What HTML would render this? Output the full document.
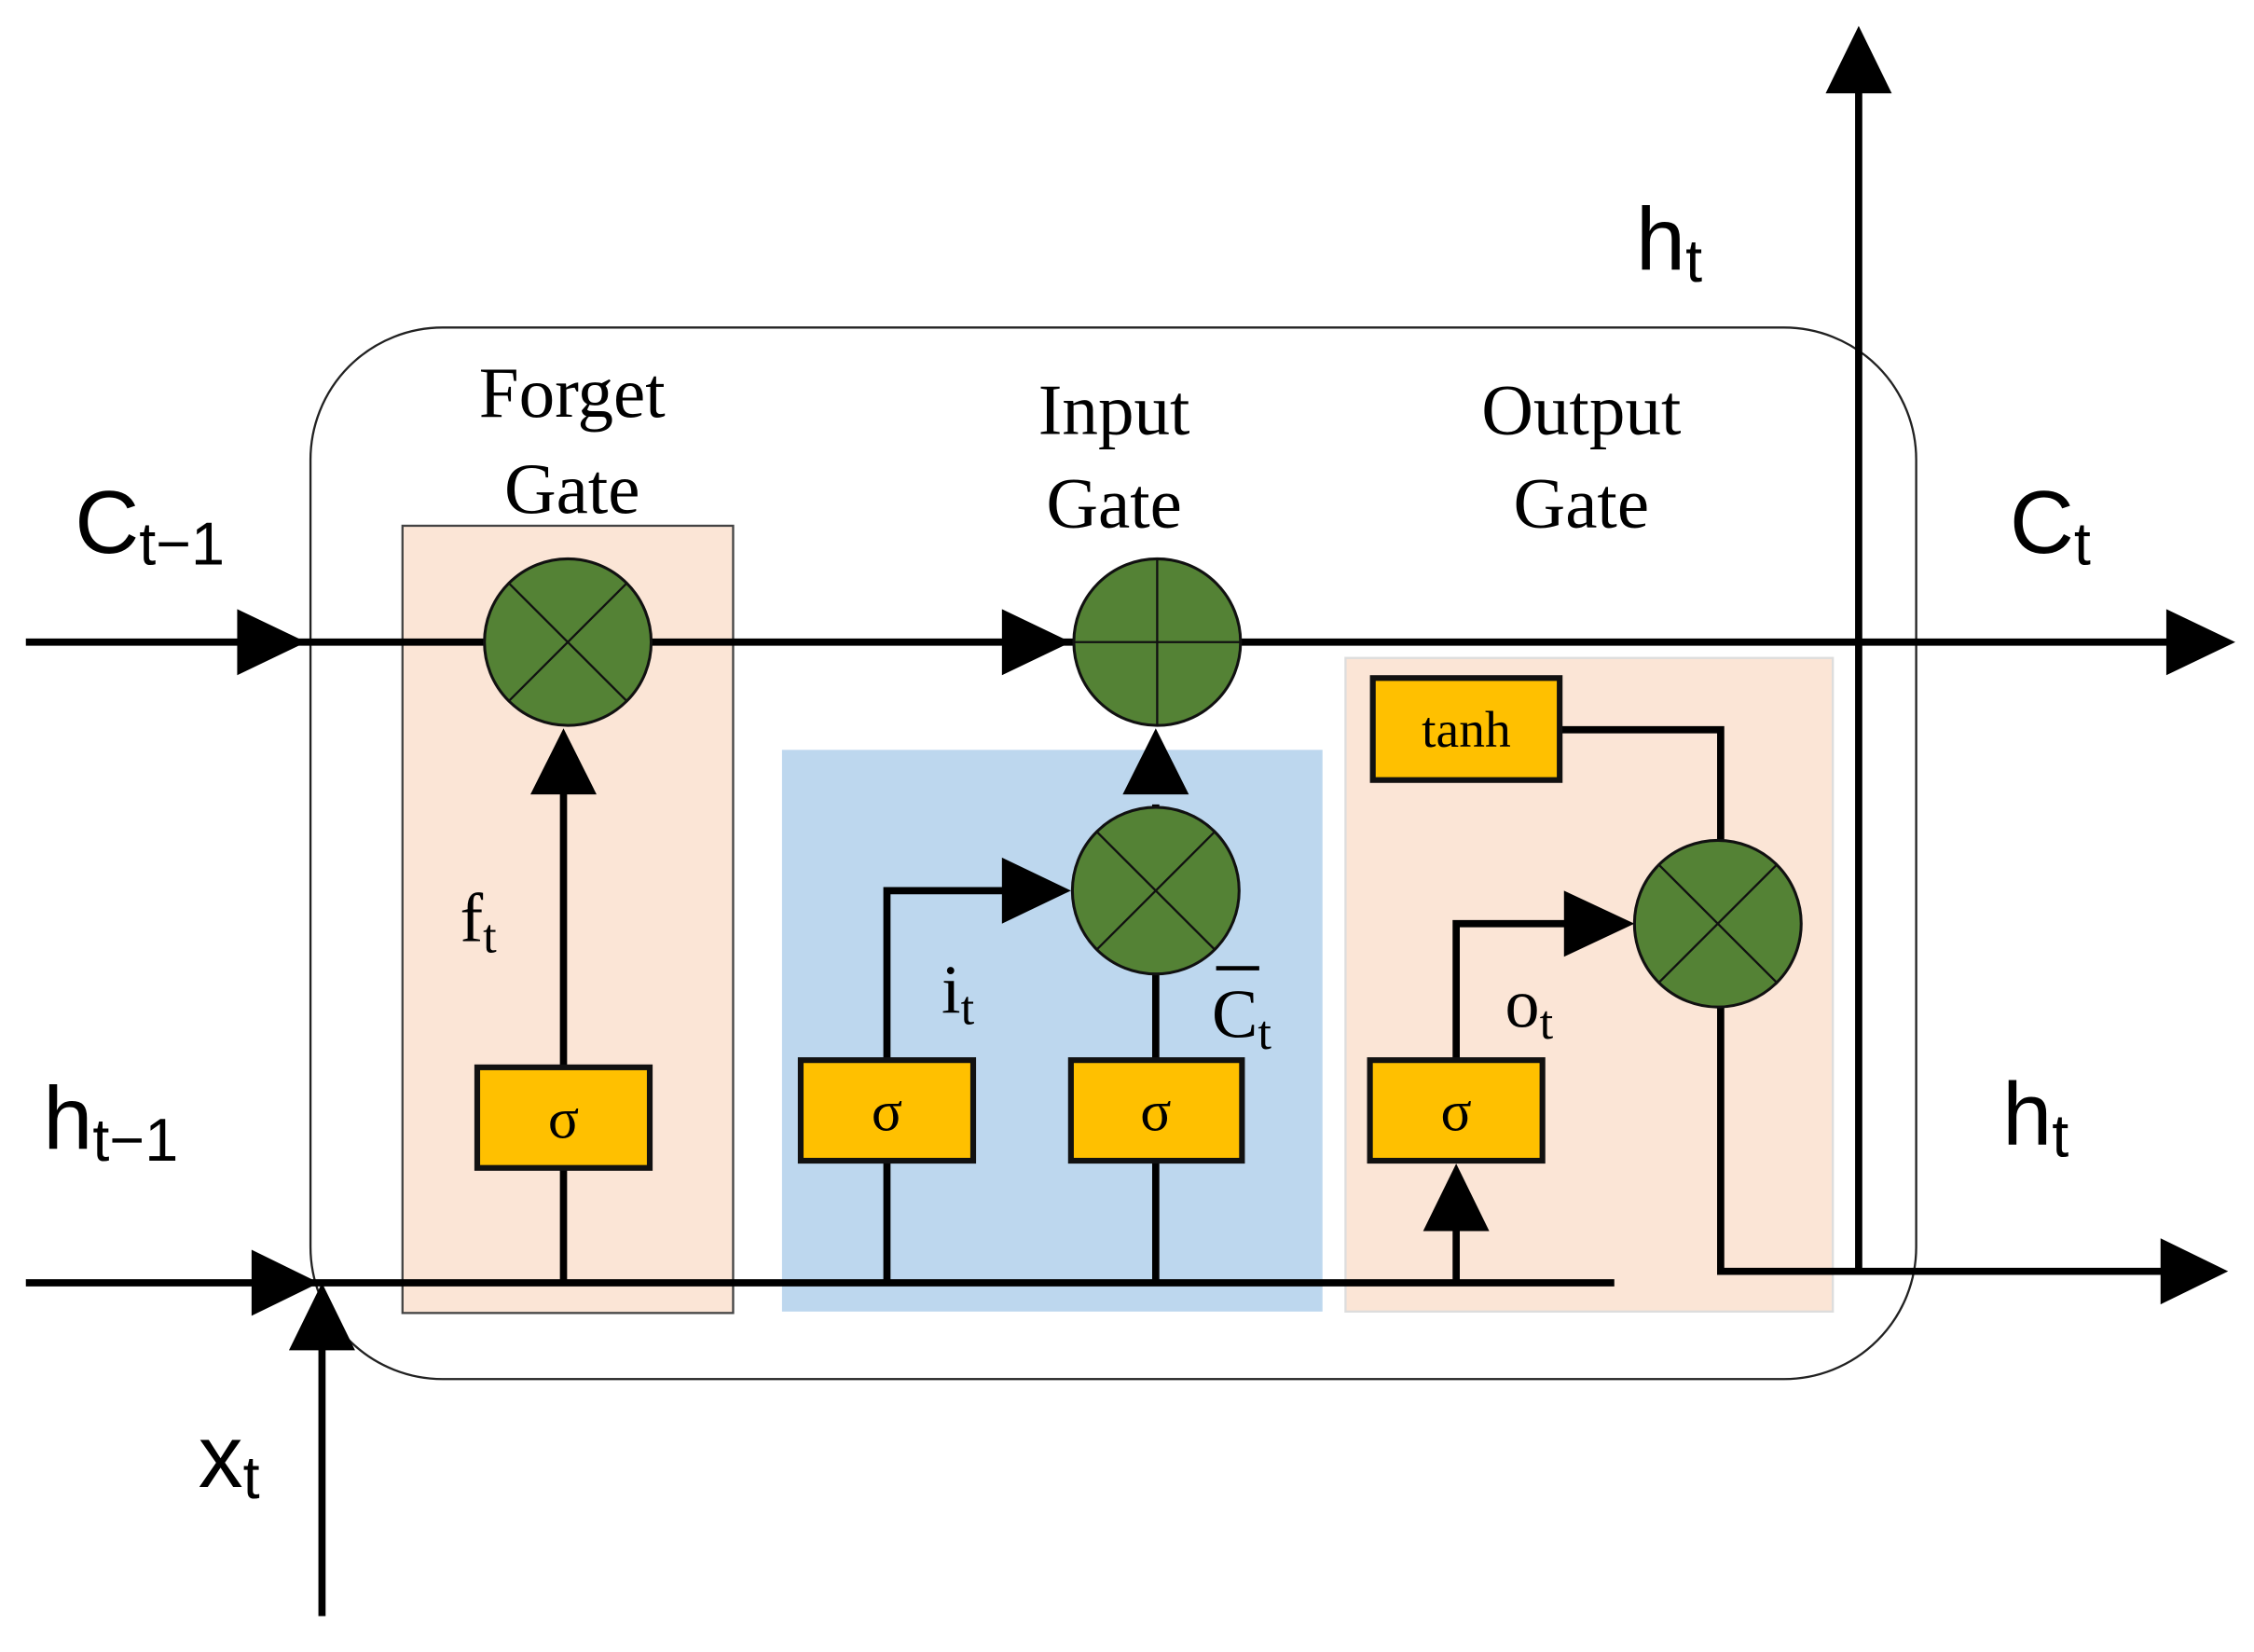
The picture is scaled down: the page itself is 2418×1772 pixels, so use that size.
<!DOCTYPE html>
<html><head><meta charset="utf-8"><style>html,body{margin:0;padding:0;background:#fff}svg{display:block}</style></head><body>
<svg width="2418" height="1772" viewBox="0 0 1568 1150" preserveAspectRatio="none" xmlns="http://www.w3.org/2000/svg">
<rect x="216" y="228" width="1117" height="732" rx="92" fill="none" stroke="#222" stroke-width="1.5"/>
<rect x="280" y="366" width="230" height="548" fill="#fbe5d6" stroke="#444" stroke-width="1.5"/>
<rect x="544" y="522" width="376" height="391" fill="#bdd7ee"/>
<rect x="936" y="458" width="339" height="455" fill="#fbe5d6" stroke="#ddd" stroke-width="1.5"/>
<g stroke="#000" stroke-width="5" fill="none">
<line x1="18" y1="447" x2="1515" y2="447"/>
<line x1="18" y1="893" x2="1123" y2="893"/>
<line x1="224" y1="1125" x2="224" y2="930"/>
<line x1="392" y1="893" x2="392" y2="550"/>
<polyline points="617,893 617,620 700,620"/>
<line x1="804" y1="893" x2="804" y2="560"/>
<line x1="1013" y1="893" x2="1013" y2="850"/>
<polyline points="1013,740 1013,643 1090,643"/>
<polyline points="1085,508 1197,508 1197,590"/>
<polyline points="1197,700 1197,885 1510,885"/>
<line x1="1293" y1="885" x2="1293" y2="60"/>
</g>
<g fill="#000">
<polygon points="165,424 213,447 165,470"/>
<polygon points="697,424 745,447 697,470"/>
<polygon points="1507,424 1555,447 1507,470"/>
<polygon points="175,870 222,893 175,916"/>
<polygon points="201,940 224,893 247,940"/>
<polygon points="369,553 392,507 415,553"/>
<polygon points="697,597 745,620 697,643"/>
<polygon points="781,553 804,507 827,553"/>
<polygon points="990,857 1013,810 1036,857"/>
<polygon points="1088,620 1137,643 1088,666"/>
<polygon points="1503,862 1550,885 1503,908"/>
<polygon points="1270,65 1293,18 1316,65"/>
</g>
<g fill="#548235" stroke="#111" stroke-width="2">
<ellipse cx="395" cy="447" rx="58" ry="58"/>
<ellipse cx="805" cy="447" rx="58" ry="58"/>
<ellipse cx="804" cy="620" rx="58" ry="58"/>
<ellipse cx="1195" cy="643" rx="58" ry="58"/>
</g>
<g stroke="#111" stroke-width="1.5">
<line x1="354" y1="406" x2="436" y2="488"/><line x1="436" y1="406" x2="354" y2="488"/>
<line x1="747" y1="447" x2="863" y2="447"/><line x1="805" y1="389" x2="805" y2="505"/>
<line x1="763" y1="579" x2="845" y2="661"/><line x1="845" y1="579" x2="763" y2="661"/>
<line x1="1154" y1="602" x2="1236" y2="684"/><line x1="1236" y1="602" x2="1154" y2="684"/>
</g>
<g fill="#ffc000" stroke="#111" stroke-width="4">
<rect x="332" y="743" width="120" height="70"/>
<rect x="557" y="738" width="120" height="70"/>
<rect x="745" y="738" width="119" height="70"/>
<rect x="953" y="738" width="120" height="70"/>
<rect x="955" y="472" width="130" height="71"/>
</g>
<g font-family="Liberation Serif, serif" text-anchor="middle" fill="#000">
<text x="392" y="792" font-size="40">σ</text>
<text x="617" y="787" font-size="40">σ</text>
<text x="804" y="787" font-size="40">σ</text>
<text x="1013" y="787" font-size="40">σ</text>
<text x="1020" y="520" font-size="36">tanh</text>
<text x="398" y="290" font-size="50">Forget</text>
<text x="398" y="357" font-size="50">Gate</text>
<text x="775" y="302" font-size="50">Input</text>
<text x="775" y="367" font-size="50">Gate</text>
<text x="1100" y="302" font-size="50">Output</text>
<text x="1100" y="367" font-size="50">Gate</text>
</g>
<g font-family="Liberation Serif, serif" fill="#000">
<text x="320" y="655" font-size="48">f<tspan font-size="34" dy="8">t</tspan></text>
<text x="655" y="705" font-size="48">i<tspan font-size="34" dy="8">t</tspan></text>
<text x="843" y="722" font-size="48">C<tspan font-size="34" dy="8">t</tspan></text>
<line x1="846" y1="674" x2="876" y2="674" stroke="#000" stroke-width="3"/>
<text x="1047" y="715" font-size="48">o<tspan font-size="34" dy="8">t</tspan></text>
</g>
<g font-family="Liberation Sans, sans-serif" fill="#000">
<text x="52" y="385" font-size="62">C<tspan font-size="42" dy="8">t−1</tspan></text>
<text x="1398" y="385" font-size="62">C<tspan font-size="42" dy="8">t</tspan></text>
<text x="30" y="800" font-size="62">h<tspan font-size="42" dy="8">t−1</tspan></text>
<text x="1393" y="797" font-size="62">h<tspan font-size="42" dy="8">t</tspan></text>
<text x="1138" y="188" font-size="62">h<tspan font-size="42" dy="8">t</tspan></text>
<text x="138" y="1035" font-size="62">x<tspan font-size="42" dy="8">t</tspan></text>
</g>
</svg>
</body></html>
